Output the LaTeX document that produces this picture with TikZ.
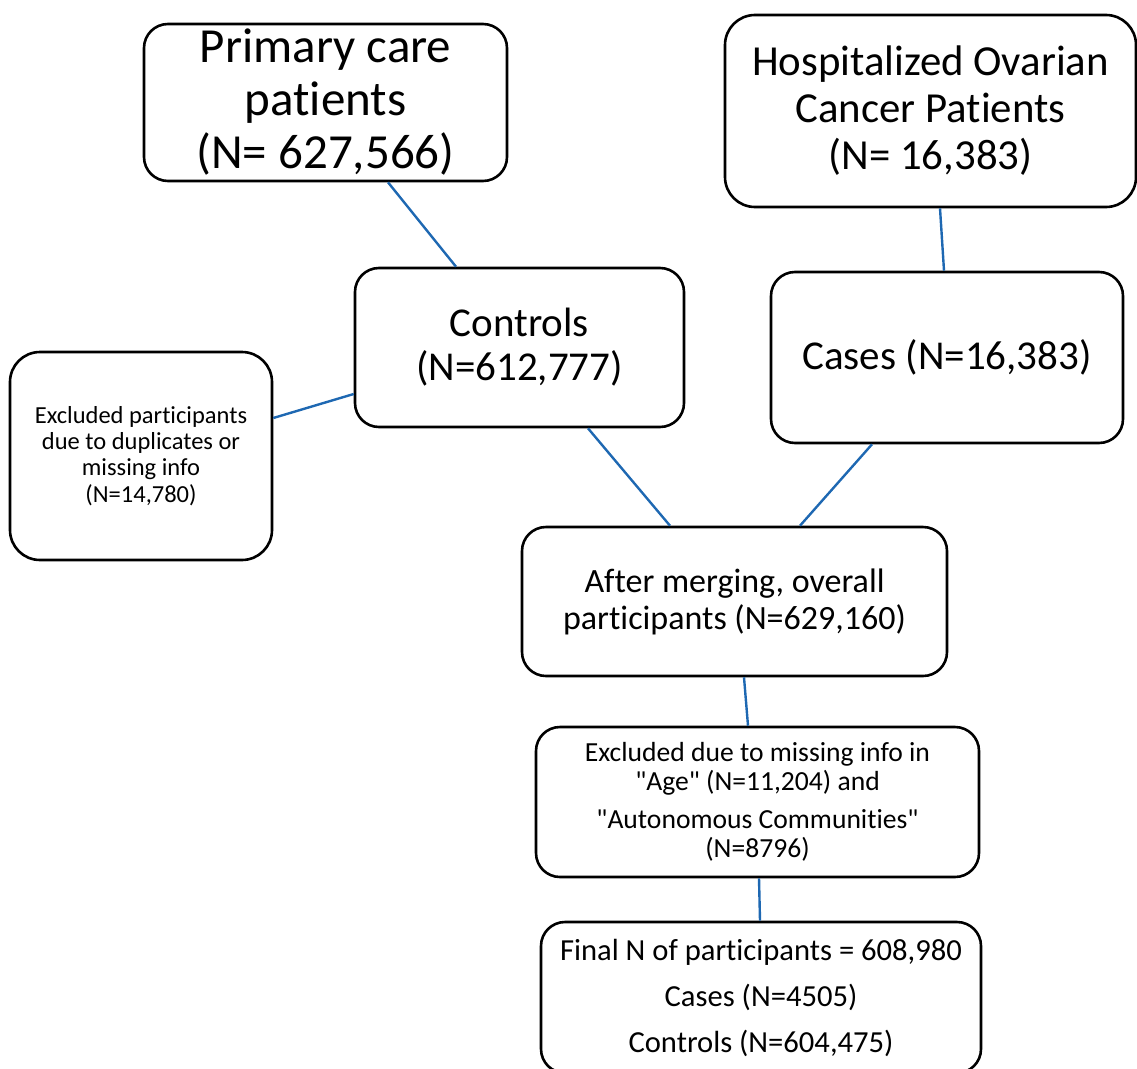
\documentclass[tikz,border=0pt]{standalone}
\usepackage{fontspec}
\setmainfont{Carlito}[Ligatures={NoCommon,TeXOff}]
\definecolor{linkblue}{RGB}{30,104,178}
\begin{document}
\begin{tikzpicture}[x=1pt,y=-1pt,
  box/.style={draw=black, line width=2.6pt, rounded corners=24pt, align=center, inner sep=0pt},
  link/.style={draw=linkblue, line width=2.4pt}]
\useasboundingbox (0,0) rectangle (1137,1068);
\node[box, minimum width=363pt, minimum height=157pt, font=\fontsize{49}{53}\selectfont] (pc) at (325.5,102.5) {Primary care\\patients\\(N= 627,566)};
\node[box, minimum width=411pt, minimum height=192pt, rounded corners=30pt, font=\fontsize{42.8}{47}\selectfont] (hosp) at (930.5,111) {Hospitalized Ovarian\\Cancer Patients\\(N= 16,383)};
\node[box, minimum width=329pt, minimum height=159pt, font=\fontsize{41}{44}\selectfont] (ctrl) at (519.5,347.5) {Controls\\(N=612,777)};
\node[box, minimum width=352pt, minimum height=171pt, font=\fontsize{41}{44}\selectfont] (cases) at (947,357.5) {Cases (N=16,383)};
\node[box, minimum width=262pt, minimum height=208pt, rounded corners=30pt, font=\fontsize{24.5}{26.3}\selectfont] (excl) at (141,456) {Excluded participants\\due to duplicates or\\missing info\\(N=14,780)};
\node[box, minimum width=425pt, minimum height=149pt, font=\fontsize{34}{37}\selectfont] (merge) at (734.5,601.5) {After merging, overall\\participants (N=629,160)};
\node[box, minimum width=443pt, minimum height=150pt, font=\fontsize{27.6}{29.5}\selectfont] (excl2) at (757.5,802) {Excluded due to missing info in\\"Age" (N=11,204) and\\[8pt]"Autonomous Communities"\\(N=8796)};
\node[box, minimum width=440pt, minimum height=151pt, font=\fontsize{30.6}{46}\selectfont] (final) at (761,997.5) {Final N of participants = 608,980\\Cases (N=4505)\\Controls (N=604,475)};
\draw[link] ([xshift=62.5pt]pc.south) -- ([xshift=-63.5pt]ctrl.north);
\draw[link] ([xshift=9.5pt]hosp.south) -- ([xshift=-3pt]cases.north);
\draw[link] ([yshift=38pt]excl.east) -- ([yshift=-46.5pt]ctrl.west);
\draw[link] ([xshift=68.5pt]ctrl.south) -- ([xshift=-64.5pt]merge.north);
\draw[link] ([xshift=-75pt]cases.south) -- ([xshift=65.5pt]merge.north);
\draw[link] ([xshift=9.5pt]merge.south) -- ([xshift=-9.5pt]excl2.north);
\draw[link] ([xshift=1.5pt]excl2.south) -- ([xshift=-1pt]final.north);
\end{tikzpicture}
\end{document}
